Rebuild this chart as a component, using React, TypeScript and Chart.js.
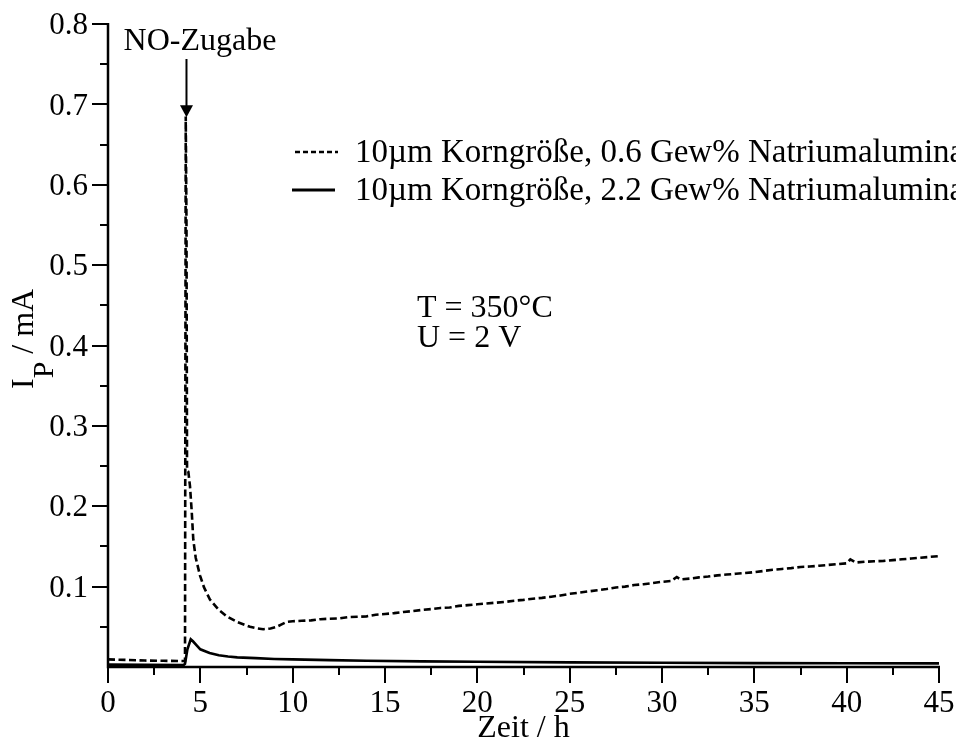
import React, { useEffect, useRef } from "react";
import { Chart, registerables } from "chart.js";

Chart.register(...registerables);

// Zeit / h
const timeLow: number[] = [
  0, 1, 2, 3, 4.1, 4.17, 4.21, 4.25, 4.28, 4.35, 4.44, 4.53, 4.62, 4.75, 4.98, 5.2, 5.52, 6.0, 6.43, 7.0, 7.69,
  8.1, 8.41, 8.8, 9.13, 9.4, 9.67, 10.0, 10.5, 11, 11.5, 12, 12.5, 13, 13.5, 14, 14.5, 15, 15.5, 16, 16.5, 17,
  17.5, 18, 18.5, 19, 19.5, 20, 20.5, 21, 21.5, 22, 22.5, 23, 23.5, 24, 24.5, 25, 25.5, 26, 26.5, 27, 27.5, 28,
  28.5, 29, 29.5, 30, 30.5, 30.8, 31, 31.5, 32, 32.5, 33, 33.5, 34, 34.5, 35, 35.5, 36, 36.5, 37, 37.5, 38, 38.5,
  39, 39.5, 40, 40.2, 40.5, 41, 41.5, 42, 42.5, 43, 43.5, 44, 44.5, 45,
];
// I_P / mA, 0.6 Gew% Natriumaluminat
const currentLow: number[] = [
  0.0095, 0.0088, 0.008, 0.0077, 0.0075, 0.0075, 0.685, 0.55, 0.245, 0.243, 0.225, 0.195, 0.158, 0.136, 0.114,
  0.099, 0.084, 0.071, 0.063, 0.056, 0.05, 0.048, 0.047, 0.048, 0.05, 0.053, 0.056, 0.057, 0.0575, 0.058, 0.0595,
  0.06, 0.0605, 0.062, 0.0625, 0.063, 0.065, 0.066, 0.067, 0.0685, 0.0695, 0.071, 0.072, 0.0735, 0.074, 0.076,
  0.077, 0.078, 0.079, 0.08, 0.081, 0.0825, 0.0835, 0.085, 0.086, 0.0875, 0.089, 0.091, 0.0925, 0.094, 0.0955,
  0.097, 0.099, 0.1, 0.102, 0.103, 0.1045, 0.106, 0.107, 0.112, 0.109, 0.11, 0.1115, 0.1125, 0.114, 0.115, 0.116,
  0.117, 0.118, 0.1195, 0.121, 0.122, 0.123, 0.1245, 0.125, 0.126, 0.127, 0.128, 0.129, 0.134, 0.13, 0.131,
  0.1315, 0.132, 0.133, 0.134, 0.135, 0.136, 0.137, 0.138,
];

const timeHigh: number[] = [
  0, 2, 4.1, 4.17, 4.3, 4.48, 4.6, 4.8, 5.0, 5.5, 6.0, 6.5, 7.0, 8.0, 9.0, 10, 12, 14, 17, 20, 25, 30, 35, 40, 45,
];
// I_P / mA, 2.2 Gew% Natriumaluminat
const currentHigh: number[] = [
  0.003, 0.0028, 0.0025, 0.004, 0.022, 0.0345, 0.032, 0.027, 0.022, 0.0175, 0.0145, 0.013, 0.012, 0.011, 0.01,
  0.0095, 0.0085, 0.0078, 0.007, 0.0066, 0.0058, 0.0052, 0.0048, 0.0046, 0.0045,
];

const seriesLabels: string[] = [
  "10µm Korngröße, 0.6 Gew% Natriumaluminat",
  "10µm Korngröße, 2.2 Gew% Natriumaluminat",
];
const xTicks: number[] = [0, 5, 10, 15, 20, 25, 30, 35, 40, 45];
const yTicks: number[] = [0.1, 0.2, 0.3, 0.4, 0.5, 0.6, 0.7, 0.8];
const conditions: string[] = ["T = 350°C", "U = 2 V"];
const eventLabel = "NO-Zugabe";
const eventTime = 4.25;
const eventPeak = 0.684;

const FONT = "'Liberation Serif', 'Times New Roman', serif";
const FS_TICK = 31;
const FS = 32;
const FS_LEGEND = 33;

const overlay = {
  id: "overlay",
  afterDraw(chart: any) {
    const { ctx, chartArea } = chart;
    const xs = chart.scales.x;
    const ys = chart.scales.y;
    ctx.save();
    ctx.strokeStyle = "#000";
    ctx.fillStyle = "#000";
    ctx.lineCap = "butt";

    // axis lines
    ctx.lineWidth = 2.5;
    ctx.beginPath();
    ctx.moveTo(chartArea.left, ys.getPixelForValue(0.8) - 1);
    ctx.lineTo(chartArea.left, chartArea.bottom);
    ctx.lineTo(chartArea.right + 1, chartArea.bottom);
    ctx.stroke();

    // tick marks, major and minor
    ctx.lineWidth = 2;
    for (let v = 0; v <= 45.001; v += 2.5) {
      const px = Math.round(xs.getPixelForValue(v));
      const major = Math.abs(v / 5 - Math.round(v / 5)) < 1e-6;
      ctx.beginPath();
      ctx.moveTo(px, chartArea.bottom);
      ctx.lineTo(px, chartArea.bottom + (major ? 16 : 8));
      ctx.stroke();
    }
    for (let i = 1; i <= 16; i++) {
      const v = i * 0.05;
      const py = Math.round(ys.getPixelForValue(v));
      const major = i % 2 === 0;
      ctx.beginPath();
      ctx.moveTo(chartArea.left, py);
      ctx.lineTo(chartArea.left - (major ? 16 : 8), py);
      ctx.stroke();
    }

    // y-axis title: I_P / mA
    ctx.save();
    ctx.translate(33, 389);
    ctx.rotate(-Math.PI / 2);
    ctx.font = `${FS}px ${FONT}`;
    ctx.textBaseline = "alphabetic";
    ctx.textAlign = "left";
    ctx.fillText("I", 0, 0);
    const wI = ctx.measureText("I").width;
    ctx.font = `${FS - 2}px ${FONT}`;
    ctx.fillText("P", wI, 20);
    const wP = ctx.measureText("P").width;
    ctx.font = `${FS}px ${FONT}`;
    ctx.fillText(" / mA", wI + wP, 0);
    ctx.restore();

    // x-axis title
    ctx.font = `${FS}px ${FONT}`;
    ctx.textAlign = "center";
    ctx.textBaseline = "alphabetic";
    ctx.fillText("Zeit / h", (chartArea.left + chartArea.right) / 2, 737);

    // event annotation with arrow
    const ax = xs.getPixelForValue(eventTime);
    const tipY = ys.getPixelForValue(eventPeak);
    ctx.fillText(eventLabel, 200, 50);
    ctx.lineWidth = 2;
    ctx.beginPath();
    ctx.moveTo(ax, 59);
    ctx.lineTo(ax, tipY - 10);
    ctx.stroke();
    ctx.beginPath();
    ctx.moveTo(ax - 6.5, tipY - 12);
    ctx.lineTo(ax + 6.5, tipY - 12);
    ctx.lineTo(ax, tipY);
    ctx.closePath();
    ctx.fill();

    // legend
    ctx.textAlign = "left";
    ctx.lineWidth = 2.5;
    ctx.setLineDash([5, 3]);
    ctx.beginPath();
    ctx.moveTo(295, 152);
    ctx.lineTo(338, 152);
    ctx.stroke();
    ctx.setLineDash([]);
    ctx.lineWidth = 3;
    ctx.beginPath();
    ctx.moveTo(292, 190);
    ctx.lineTo(335, 190);
    ctx.stroke();
    ctx.font = `${FS_LEGEND}px ${FONT}`;
    ctx.fillText(seriesLabels[0], 355, 162);
    ctx.fillText(seriesLabels[1], 355, 200);

    // measurement conditions
    ctx.font = `${FS}px ${FONT}`;
    ctx.fillText(conditions[0], 417, 317);
    ctx.fillText(conditions[1], 417, 347);

    ctx.restore();
  },
};

export default function App() {
  const canvasRef = useRef<HTMLCanvasElement | null>(null);

  useEffect(() => {
    document.body.style.margin = "0";
    const canvas = canvasRef.current;
    if (!canvas) return;
    const chart = new Chart(canvas, {
      type: "line",
      data: {
        datasets: [
          {
            label: seriesLabels[0],
            data: timeLow.map((t, i) => ({ x: t, y: currentLow[i] })),
            borderColor: "#000",
            borderWidth: 2.6,
            borderDash: [7, 3.5],
            pointRadius: 0,
            tension: 0,
            fill: false,
          },
          {
            label: seriesLabels[1],
            data: timeHigh.map((t, i) => ({ x: t, y: currentHigh[i] })),
            borderColor: "#000",
            borderWidth: 2.6,
            pointRadius: 0,
            tension: 0,
            fill: false,
          },
        ],
      },
      options: {
        animation: false,
        responsive: false,
        devicePixelRatio: 1,
        layout: { padding: { top: 24, right: 17, left: 0, bottom: 0 } },
        plugins: {
          legend: { display: false },
          tooltip: { enabled: false },
          title: { display: false },
        },
        scales: {
          x: {
            type: "linear",
            min: 0,
            max: 45,
            afterFit: (scale: any) => {
              scale.height = 78;
              scale.paddingLeft = 0;
              scale.paddingRight = 0;
            },
            afterBuildTicks: (scale: any) => {
              scale.ticks = xTicks.map((v) => ({ value: v }));
            },
            grid: { display: false, drawTicks: false, tickLength: 0 },
            border: { display: false },
            ticks: {
              color: "#000",
              padding: 18,
              maxRotation: 0,
              autoSkip: false,
              font: { family: FONT, size: FS_TICK },
              callback: (v: any) => String(v),
            },
          },
          y: {
            type: "linear",
            min: 0,
            max: 0.8,
            afterFit: (scale: any) => {
              scale.width = 108;
              scale.paddingTop = 0;
              scale.paddingBottom = 0;
            },
            afterBuildTicks: (scale: any) => {
              scale.ticks = yTicks.map((v) => ({ value: v }));
            },
            grid: { display: false, drawTicks: false, tickLength: 0 },
            border: { display: false },
            ticks: {
              color: "#000",
              padding: 20,
              labelOffset: 2,
              autoSkip: false,
              font: { family: FONT, size: FS_TICK },
              callback: (v: any) => Number(v).toFixed(1),
            },
          },
        },
      },
      plugins: [overlay],
    });
    return () => chart.destroy();
  }, []);

  return (
    <div style={{ width: 956, height: 745, background: "#fff" }}>
      <canvas ref={canvasRef} width={956} height={745} style={{ display: "block" }} />
    </div>
  );
}
